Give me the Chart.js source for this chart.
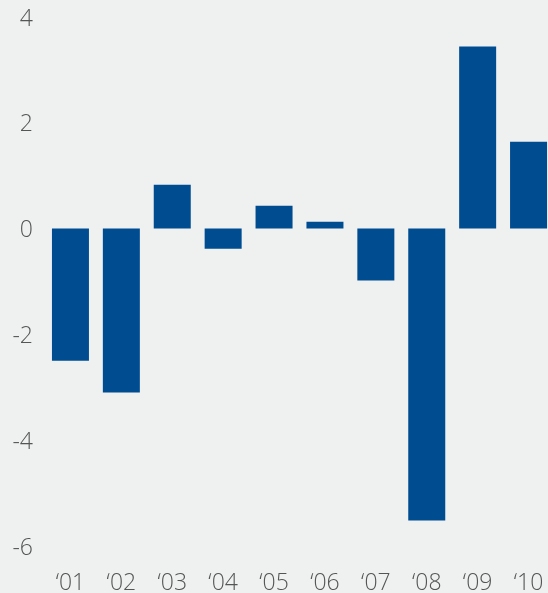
<!DOCTYPE html>
<html>
<head>
<meta charset="utf-8">
<script src="https://cdn.jsdelivr.net/npm/chart.js@4"></script>
<style>
  html, body { margin: 0; padding: 0; background: #eff1f1; overflow: hidden; }
  canvas { display: block; }
</style>
</head>
<body>
<canvas id="growthChart" width="556" height="593"></canvas>
<script>
// yearly values, '01 - '10
const years = ['\u201801', '\u201802', '\u201803', '\u201804', '\u201805', '\u201806', '\u201807', '\u201808', '\u201809', '\u201810'];
const values = [-2.5, -3.1, 0.83, -0.38, 0.43, 0.13, -0.98, -5.52, 3.44, 1.64];
const yTicks = [4, 2, 0, -2, -4, -6];

const barColor = '#004c91';
const labelColor = '#555555';
const tickFont = { family: 'Open Sans', size: 23, weight: 300 };

const ctx = document.getElementById('growthChart').getContext('2d');
new Chart(ctx, {
    type: 'bar',
    data: {
        labels: years,
        datasets: [{
            data: values,
            backgroundColor: barColor,
            borderWidth: 0,
            categoryPercentage: 1,
            barPercentage: 0.727
        }]
    },
    options: {
        responsive: false,
        animation: false,
        layout: { padding: { top: 17, right: 2, left: 0, bottom: 0 } },
        plugins: { legend: { display: false }, tooltip: { enabled: false } },
        scales: {
            x: {
                grid: { display: false, drawTicks: false },
                border: { display: false },
                ticks: {
                    color: labelColor,
                    font: tickFont,
                    padding: 24,
                    maxRotation: 0
                },
                afterFit: (scale) => {
                    scale.height = 47;
                    scale.paddingLeft = 0;
                    scale.paddingRight = 0;
                }
            },
            y: {
                min: Math.min(...yTicks),
                max: Math.max(...yTicks),
                grid: { display: false, drawTicks: false },
                border: { display: false },
                afterBuildTicks: (scale) => { scale.ticks = yTicks.map(v => ({ value: v })); },
                ticks: {
                    color: labelColor,
                    font: tickFont,
                    padding: 12,
                    labelOffset: 2
                },
                afterFit: (scale) => {
                    scale.width = 45;
                    scale.paddingTop = 0;
                    scale.paddingBottom = 0;
                }
            }
        }
    }
});
</script>
</body>
</html>
